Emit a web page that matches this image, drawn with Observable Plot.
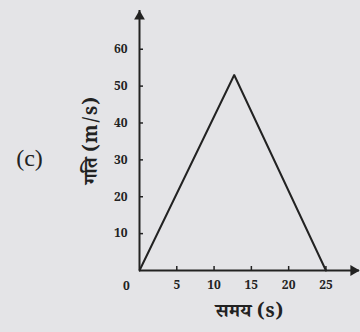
<!DOCTYPE html>
<html>
<head>
<meta charset="utf-8">
<script src="https://cdn.jsdelivr.net/npm/d3@7"></script>
<script src="https://cdn.jsdelivr.net/npm/@observablehq/plot@0.6"></script>
<style>
  html, body { margin: 0; padding: 0; background: #e4e4e7; }
  #chart { width: 360px; height: 332px; overflow: hidden; }
</style>
</head>
<body>
<div id="chart"></div>
<script>
const time = [0, 12.7, 25];
const speed = [0, 53, 0];
const xTicks = [5, 10, 15, 20, 25];
const yTicks = [10, 20, 30, 40, 50, 60];
const xLabel = "समय (s)";
const yLabel = "गति (m/s)";
const panelLabel = "(c)";
const xMax = 29.5, yMax = 70.5;

const data = time.map((t, i) => ({t, v: speed[i]}));
const font = "'Noto Serif Devanagari','Noto Sans Devanagari','Lohit Devanagari','Liberation Serif',serif";

const chart = Plot.plot({
  width: 360,
  height: 332,
  marginLeft: 139,
  marginRight: 1,
  marginTop: 10,
  marginBottom: 62,
  style: {background: "#e4e4e7", fontFamily: font, color: "#222"},
  x: {domain: [0, xMax]},
  y: {domain: [0, yMax]},
  marks: [
    Plot.axisX({ticks: xTicks, tickSize: 4, dy: -4, text: null, label: null, stroke: "#222", strokeWidth: 1.5}),
    Plot.axisY({ticks: yTicks, tickSize: 4, dx: 4, text: null, label: null, stroke: "#222", strokeWidth: 1.5}),
    Plot.axisX({ticks: xTicks, tickSize: 0, tickPadding: 10, fontSize: 12, fontWeight: "bold",
      label: xLabel, labelAnchor: "center", labelArrow: "none", labelOffset: 46}),
    Plot.axisY({ticks: yTicks, tickSize: 0, tickPadding: 12, fontSize: 12, fontWeight: "bold",
      label: yLabel, labelAnchor: "center", labelArrow: "none", labelOffset: 56}),
    Plot.text(["0"], {x: 0, y: 0, dx: -13, dy: 16, fontSize: 12, fontWeight: "bold", fill: "#222"}),
    Plot.text([panelLabel], {frameAnchor: "left", textAnchor: "middle", dx: -110, dy: 18, fontSize: 24, fill: "#222", fontFamily: "'Liberation Serif',serif"}),
    Plot.ruleX([0], {stroke: "#222", strokeWidth: 2}),
    Plot.ruleY([0], {stroke: "#222", strokeWidth: 2}),
    Plot.dot([0], {x: 0, y: yMax, dy: 6, symbol: "triangle", r: 4, fill: "#222", stroke: null}),
    Plot.dot([0], {x: xMax, y: 0, dx: -6, symbol: "triangle", rotate: 90, r: 4, fill: "#222", stroke: null}),
    Plot.line(data, {x: "t", y: "v", stroke: "#222", strokeWidth: 2})
  ]
});
chart.querySelectorAll("text").forEach(t => { if (!t.closest("[aria-label='text']")) t.style.fontFamily = font; });
document.getElementById("chart").appendChild(chart);
chart.querySelectorAll("[aria-label='x-axis label'] text, [aria-label='y-axis label'] text").forEach(t => { t.style.fontSize = "19px"; });
</script>
</body>
</html>
